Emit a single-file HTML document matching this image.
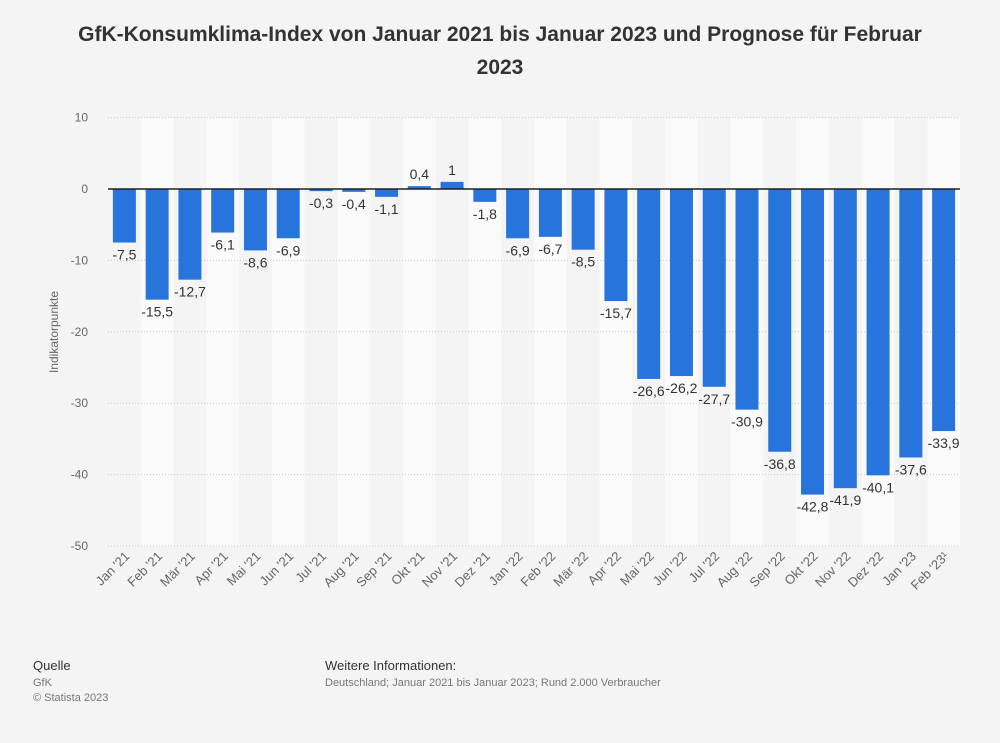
<!DOCTYPE html>
<html><head><meta charset="utf-8"><style>
body{margin:0;background:#f4f4f4;font-family:"Liberation Sans",sans-serif;}
svg{display:block}
</style></head><body>
<svg width="1000" height="743">
<rect width="1000" height="743" fill="#f4f4f4"/>
<text x="500" y="41" text-anchor="middle" font-size="21" font-weight="bold" fill="#333">GfK-Konsumklima-Index von Januar 2021 bis Januar 2023 und Prognose für Februar</text>
<text x="500" y="74" text-anchor="middle" font-size="21" font-weight="bold" fill="#333">2023</text>
<g id="bands"></g><g id="grid"></g><g id="bars"></g><g id="labels"></g><g id="xt"></g><g id="yt"></g>
<text transform="translate(58,332) rotate(-90)" text-anchor="middle" font-size="12" fill="#666">Indikatorpunkte</text>
<text x="33" y="670" font-size="13" fill="#333">Quelle</text>
<text x="33" y="686" font-size="11" fill="#777">GfK</text>
<text x="33" y="701" font-size="11" fill="#777">© Statista 2023</text>
<text x="325" y="670" font-size="13" fill="#333">Weitere Informationen:</text>
<text x="325" y="686" font-size="11" fill="#777">Deutschland; Januar 2021 bis Januar 2023; Rund 2.000 Verbraucher</text>
</svg>
<script>
const categories=["Jan '21","Feb '21","Mär '21","Apr '21","Mai '21","Jun '21","Jul '21","Aug '21","Sep '21","Okt '21","Nov '21","Dez '21","Jan '22","Feb '22","Mär '22","Apr '22","Mai '22","Jun '22","Jul '22","Aug '22","Sep '22","Okt '22","Nov '22","Dez '22","Jan '23","Feb '23¹"];
const values=[-7.5,-15.5,-12.7,-6.1,-8.6,-6.9,-0.3,-0.4,-1.1,0.4,1,-1.8,-6.9,-6.7,-8.5,-15.7,-26.6,-26.2,-27.7,-30.9,-36.8,-42.8,-41.9,-40.1,-37.6,-33.9];
const yTicks=[10,0,-10,-20,-30,-40,-50];
const NS="http://www.w3.org/2000/svg";
const x0=108,x1=960,bw=(x1-x0)/categories.length;
function y(v){return 189-v*7.14;}
function xc(i){return x0+bw*(i+0.5);}
function mk(p,t,a,txt){const e=document.createElementNS(NS,t);for(const k in a)e.setAttribute(k,a[k]);if(txt!==undefined)e.textContent=txt;document.getElementById(p).appendChild(e);return e;}
categories.forEach((c,i)=>{
 if(i%2==1){const b=mk('bands','rect',{x:x0+bw*i,y:y(10),width:bw,height:y(-50)-y(10),fill:'#fafafa'});
 
 }
});
yTicks.forEach(t=>{
 if(t!==0){const g=mk('grid','line',{x1:x0,x2:x1,y1:y(t),y2:y(t),stroke:'#c8c8c8','stroke-dasharray':'1,2'});
 
 }
 const l=mk('yt','text',{x:88,y:y(t)+4,'text-anchor':'end','font-size':12,fill:'#666'},String(t));
 
 
});
values.forEach((v,i)=>{
 const w=23,cx=xc(i);
 const r=mk('bars','rect',{x:cx-w/2,y:Math.min(y(v),y(0)),width:w,height:Math.max(Math.abs(y(v)-y(0)),1),fill:'#2774dc'});
 
 
 const ly=v>=0?y(v)-7:y(v)+17;
 const t=mk('labels','text',{x:cx,y:ly,'text-anchor':'middle','font-size':14,fill:'#333'},String(v).replace('.',','));
 
 
 const xl=mk('xt','text',{transform:`translate(${cx+6},${557}) rotate(-45)`,'text-anchor':'end','font-size':13,fill:'#666'},categories[i]);
 
 
});
const z=mk('bars','line',{x1:x0,x2:x1,y1:y(0),y2:y(0),stroke:'#222','stroke-width':1.5});


</script>
</body></html>
